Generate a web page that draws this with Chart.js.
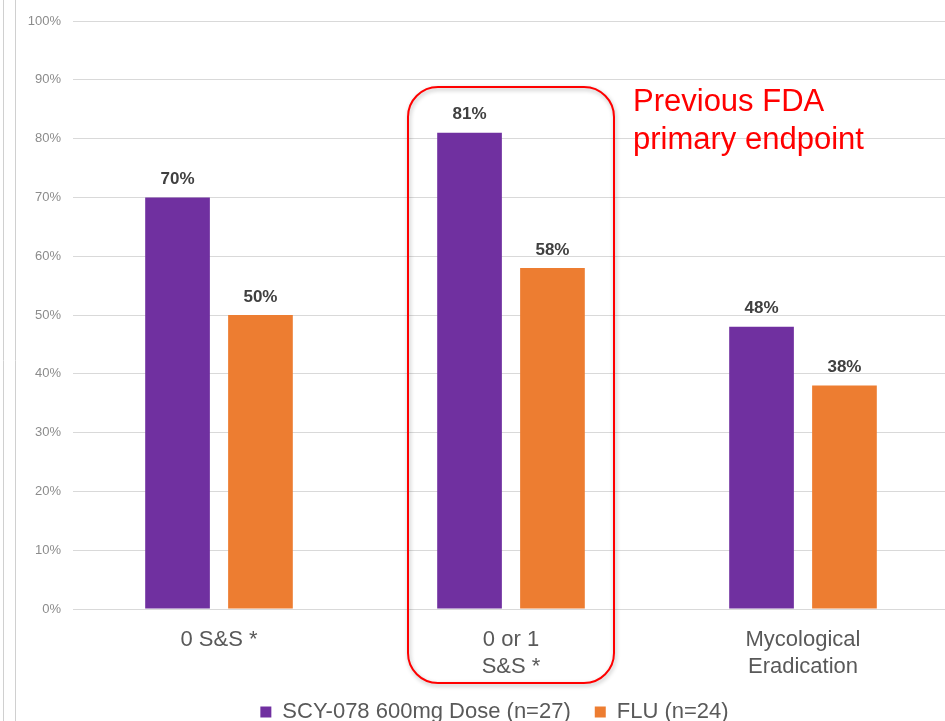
<!DOCTYPE html>
<html lang="en">
<head>
  <meta charset="UTF-8">
  <title>Clinical cure rates</title>
  <style>
    html, body { margin: 0; padding: 0; background: #fff; overflow: hidden; }
    #wrap { position: absolute; left: 0; top: 0; width: 952px; height: 721px; }
  </style>
</head>
<body>
  <div id="wrap">
    <canvas id="graphic"></canvas>
  </div>

  <script src="https://cdn.jsdelivr.net/npm/chart.js"></script>
  <script>
    const categorias = [["0 S&S *"], ["0 or 1", "S&S *"], ["Mycological", "Eradication"]];
    const scy078 = [70, 81, 48];
    const flu = [50, 58, 38];
    const series = ["SCY-078 600mg Dose (n=27)", "FLU (n=24)"];
    const notaTexto = ["Previous FDA", "primary endpoint"];

    const fuente = "'Liberation Sans', Arial, sans-serif";

    // marco de la diapositiva a la izquierda
    const marco = {
      id: 'marco',
      beforeDraw(chart) {
        const ctx = chart.ctx;
        ctx.save();
        ctx.strokeStyle = '#d0d0d0';
        ctx.lineWidth = 1;
        [3.5, 15.5].forEach(x => {
          ctx.beginPath();
          ctx.moveTo(x, 0);
          ctx.lineTo(x, chart.height);
          ctx.stroke();
        });
        ctx.restore();
      }
    };

    // la leyenda va algo desplazada a la derecha
    const moverLeyenda = {
      id: 'moverLeyenda',
      afterLayout(chart) {
        chart.legend.left += 20;
        chart.legend.right += 20;
      }
    };

    // porcentajes encima de cada barra
    const etiquetas = {
      id: 'etiquetas',
      afterDatasetsDraw(chart) {
        const ctx = chart.ctx;
        ctx.save();
        ctx.font = "bold 17px " + fuente;
        ctx.fillStyle = '#404040';
        ctx.textAlign = 'center';
        ctx.textBaseline = 'middle';
        chart.data.datasets.forEach((ds, i) => {
          chart.getDatasetMeta(i).data.forEach((bar, j) => {
            ctx.fillText(ds.data[j] + '%', bar.x, bar.y - 18);
          });
        });
        ctx.restore();
      }
    };

    // recuadro rojo sobre la segunda categoría
    const recuadro = {
      id: 'recuadro',
      afterDraw(chart) {
        const ctx = chart.ctx;
        const xs = chart.scales.x;
        const cx = xs.getPixelForValue(1);
        const x0 = cx - 103, x1 = cx + 103;
        const y0 = 87, y1 = 683, r = 30;
        ctx.save();
        ctx.shadowColor = 'rgba(0,0,0,0.3)';
        ctx.shadowBlur = 4;
        ctx.shadowOffsetX = 1;
        ctx.shadowOffsetY = 2;
        ctx.strokeStyle = '#ff0000';
        ctx.lineWidth = 2;
        ctx.beginPath();
        ctx.roundRect(x0, y0, x1 - x0, y1 - y0, r);
        ctx.stroke();
        ctx.restore();

        ctx.save();
        ctx.font = "31px " + fuente;
        ctx.fillStyle = '#ff0000';
        ctx.textAlign = 'left';
        ctx.textBaseline = 'middle';
        ctx.fillText(notaTexto[0], x1 + 19, 102);
        ctx.fillText(notaTexto[1], x1 + 19, 140);
        ctx.restore();
      }
    };

    new Chart(document.getElementById('graphic'), {
      type: 'bar',
      data: {
        labels: categorias,
        datasets: [
          {
            label: series[0],
            data: scy078,
            backgroundColor: '#7030a0',
            categoryPercentage: 0.568,
            barPercentage: 0.78
          },
          {
            label: series[1],
            data: flu,
            backgroundColor: '#ed7d31',
            categoryPercentage: 0.568,
            barPercentage: 0.78
          }
        ]
      },
      options: {
        responsive: true,
        maintainAspectRatio: false,
        animation: false,
        layout: {
          padding: { left: 0, right: 3, top: 21, bottom: -12 }
        },
        scales: {
          x: {
            afterFit(scale) { scale.height = 68; },
            grid: { display: false, drawTicks: false },
            border: { display: false },
            ticks: {
              color: '#595959',
              padding: 17,
              font: { family: fuente, size: 22, lineHeight: 1.23 }
            }
          },
          y: {
            min: 0,
            max: 100,
            afterFit(scale) { scale.width = 73; },
            grid: { color: '#d9d9d9', drawTicks: false },
            border: { display: false },
            ticks: {
              stepSize: 10,
              color: '#8c8c8c',
              padding: 12,
              font: { family: fuente, size: 13 },
              callback: v => v + '%'
            }
          }
        },
        plugins: {
          legend: {
            position: 'bottom',
            labels: {
              boxWidth: 11,
              boxHeight: 11,
              padding: 24,
              color: '#595959',
              font: { family: fuente, size: 22 }
            }
          },
          tooltip: { enabled: false }
        }
      },
      plugins: [marco, moverLeyenda, etiquetas, recuadro]
    });
  </script>
</body>
</html>
